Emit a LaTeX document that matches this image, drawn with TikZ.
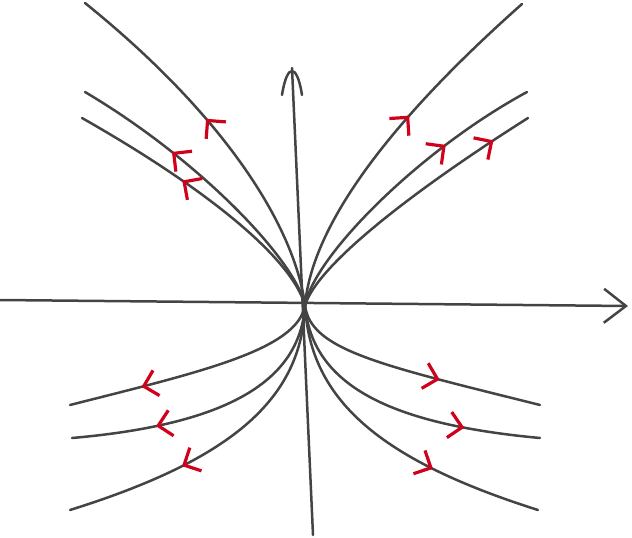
\documentclass[tikz,border=0pt]{standalone}
\usepackage{xcolor}
\usetikzlibrary{arrows.meta,decorations.markings}

\definecolor{inkgray}{RGB}{68,68,68}
\definecolor{flowred}{RGB}{208,2,27}

\tikzset{
  axis/.style={draw=inkgray, line width=2.5pt, line cap=round},
  curve/.style={draw=inkgray, line width=2.5pt, line cap=round},
  flow/.style={curve, postaction={decorate},
    decoration={markings, mark=at position #1 with
      {\arrow{Straight Barb[length=13pt,width=26pt,line width=3.2pt,color=flowred]}}}},
}

\begin{document}
\begin{tikzpicture}[x=1pt, y=-1pt]
\useasboundingbox (0,0) rectangle (632,538);
\coordinate (O) at (305,305);
\coordinate (ytop) at (292,68);
% axes
\draw[axis, -{Straight Barb[length=22pt,width=34pt]}] (0,300) -- (628,306);
\draw[axis] (313,535) -- (ytop);
\draw[axis] ([xshift=-10pt,yshift=-27pt]ytop) .. controls ([xshift=-5pt,yshift=5pt]ytop) and ([xshift=5pt,yshift=5pt]ytop) .. ([xshift=10pt,yshift=-27pt]ytop);
% upper left
\draw[flow=0.56] (O) .. controls (295,230) and (230,120) .. (85,3);
\draw[flow=0.66] (O) .. controls (295,260) and (200,160) .. (85,92);
\draw[flow=0.60] (O) .. controls (290,255) and (200,185) .. (82,118);
% upper right
\draw[flow=0.58] (O) .. controls (312,230) and (380,130) .. (522,4);
\draw[flow=0.69] (O) .. controls (315,255) and (420,150) .. (527,92);
\draw[flow=0.86] (O) .. controls (320,260) and (430,180) .. (528,118);
% lower left
\draw[flow=0.72] (O) .. controls (298,350) and (200,372) .. (70,405);
\draw[flow=0.71] (O) .. controls (300,385) and (220,425) .. (72,438);
\draw[flow=0.64] (O) .. controls (302,400) and (230,460) .. (70,510);
% lower right
\draw[flow=0.61] (O) .. controls (310,350) and (380,365) .. (540,405);
\draw[flow=0.74] (O) .. controls (312,390) and (400,425) .. (540,438);
\draw[flow=0.66] (O) .. controls (310,400) and (380,460) .. (538,510);
\end{tikzpicture}
\end{document}
